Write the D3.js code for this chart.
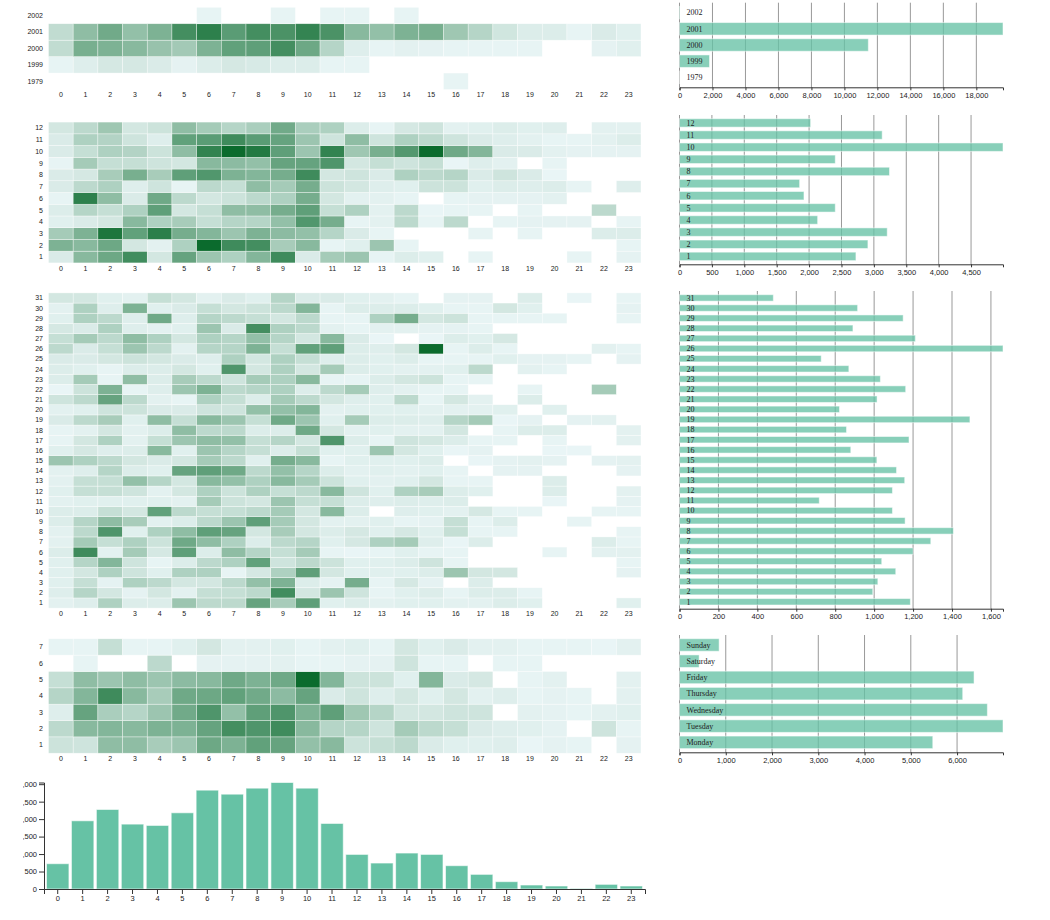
<!DOCTYPE html>
<html>
<head>
<meta charset="utf-8">
<script src="https://cdn.jsdelivr.net/npm/d3@7"></script>
<style>
body { margin: 0; background: #fff; }
svg text { font-family: "Liberation Sans", Arial, sans-serif; }
.row-label { font-family: "Liberation Serif", "Times New Roman", serif; font-size: 8px; fill: #222; }
.axis text { font-size: 7.5px; fill: #222; }
.axis path, .axis line { stroke: #333; }
.heat-label { font-size: 7px; fill: #222; }
</style>
</head>
<body>
<svg id="chart" width="1050" height="920"></svg>
<script>
const hours = d3.range(0, 24);

const years = ["1979", "1999", "2000", "2001", "2002"];
const yearTotals = [3, 1820, 11450, 19617, 30];

const months = d3.range(1, 13).map(String);
const monthTotals = [2723, 2908, 3206, 2132, 2404, 1921, 1854, 3241, 2404, 4993, 3128, 2024];

const days = d3.range(1, 32).map(String);
const dayTotals = [1186, 993, 1019, 1111, 1039, 1200, 1291, 1407, 1159, 1094, 718, 1094, 1157, 1115, 1014, 880,
  1179, 858, 1492, 822, 1015, 1162, 1032, 870, 728, 1662, 1212, 891, 1149, 915, 482];

const weekdayNums = d3.range(1, 8).map(String);
const weekdays = ["Monday", "Tuesday", "Wednesday", "Thursday", "Friday", "Saturday", "Sunday"];
const weekdayTotals = [5475, 6993, 6655, 6122, 6367, 424, 856];

const hourTotals = [724, 1952, 2276, 1857, 1819, 2181, 2829, 2714, 2886, 3048, 2886, 1876,
  990, 743, 1029, 990, 667, 419, 210, 114, 86, 15, 133, 86];

// heatmap shading, 0-100 (0 = no cell)
const yearHeat = [
  [0,0,0,0,0,0,0,0,0,0,0,0,0,0,0,0,3,0,0,0,0,0,0,0],
  [3,7,11,11,9,4,8,11,10,8,8,3,3,0,0,0,0,0,0,0,0,0,0,0],
  [20,52,50,45,38,33,50,62,63,75,57,25,7,3,5,4,3,3,3,3,0,0,4,6],
  [20,42,55,40,50,75,85,65,75,72,82,72,45,40,50,52,35,25,13,8,8,3,9,6],
  [0,0,0,0,0,0,3,0,0,3,0,3,3,0,3,0,0,0,0,0,0,0,0,0]
];

const monthHeat = [
  [9,45,57,76,12,60,36,28,47,77,9,32,36,3,8,6,0,3,0,0,0,3,0,4],
  [50,45,57,12,5,28,100,77,75,31,45,3,6,36,3,0,0,0,0,0,0,0,0,3],
  [32,50,92,62,86,53,47,36,50,43,40,25,9,3,0,0,0,3,0,3,0,0,8,8],
  [6,9,12,45,28,31,18,25,25,40,69,53,3,5,22,3,22,0,3,4,4,4,0,3],
  [8,25,18,28,63,12,18,42,42,53,63,18,28,5,22,2,3,3,0,3,0,0,22,0],
  [3,85,42,9,56,22,12,15,22,28,53,12,5,5,3,0,3,4,4,4,5,0,0,0],
  [9,22,28,7,14,3,22,18,42,32,53,15,12,7,6,15,15,6,8,7,8,3,0,7],
  [9,11,31,52,31,63,69,50,47,53,77,12,14,9,28,22,25,9,14,9,2,0,0,0],
  [3,32,18,18,14,12,45,43,40,60,60,70,12,18,14,18,2,7,5,0,3,0,0,0],
  [9,18,28,26,15,42,83,100,90,63,36,83,35,52,68,100,56,47,9,9,5,4,4,4],
  [9,28,26,14,7,62,65,77,65,60,36,14,42,14,28,22,14,9,7,5,3,3,5,8],
  [12,22,35,12,15,42,32,25,30,55,30,28,8,3,11,14,5,6,8,6,7,0,5,5]
];

const dayHeat = [
  [5,7,28,8,8,36,22,22,60,31,63,6,8,5,6,6,5,5,8,6,0,0,0,6],
  [7,25,12,4,12,5,18,18,22,76,12,36,14,3,6,8,3,8,8,3,0,0,0,0],
  [6,18,4,28,22,12,12,22,40,50,8,4,53,3,11,4,0,8,0,0,0,0,0,0],
  [6,12,28,14,6,28,28,3,11,28,63,12,6,6,6,8,36,12,12,0,0,0,0,4],
  [6,25,47,14,3,8,22,28,62,14,22,15,6,6,8,14,3,0,0,0,0,0,0,3],
  [8,77,5,32,11,63,8,42,25,18,32,3,2,3,6,3,3,0,0,0,3,0,5,5],
  [5,32,18,28,15,56,42,28,8,22,25,6,11,28,32,7,2,8,0,0,0,0,8,3],
  [5,22,70,6,28,42,63,60,12,31,12,8,11,6,11,6,18,3,3,0,0,0,0,3],
  [8,25,42,31,5,8,22,36,63,32,12,5,5,6,3,4,18,3,8,0,0,3,0,0],
  [8,8,18,12,62,22,18,18,22,32,12,45,8,0,7,6,5,11,3,3,0,0,3,3],
  [5,6,6,6,6,5,32,15,12,36,18,18,8,7,8,7,8,0,0,0,2,0,0,4],
  [6,18,18,14,5,12,28,15,28,18,22,45,14,6,28,31,8,6,0,0,8,0,0,5],
  [5,18,18,40,25,12,45,40,28,45,32,15,6,5,6,12,3,3,0,0,8,0,0,0],
  [5,7,25,8,6,60,63,56,22,40,25,8,5,6,5,6,3,0,4,4,0,0,0,4],
  [36,28,22,12,9,12,32,22,6,53,45,3,6,6,6,8,0,2,4,5,4,0,4,5],
  [6,11,7,8,45,6,36,25,18,8,18,6,6,36,12,6,2,4,0,0,2,2,0,0],
  [3,12,28,5,18,36,42,40,18,25,12,70,8,3,14,12,8,3,3,0,3,0,0,5],
  [3,5,12,5,8,42,22,22,8,8,56,12,5,6,5,5,12,0,3,8,8,0,0,5],
  [9,22,31,6,42,18,45,36,18,56,36,6,32,8,8,7,25,32,2,4,0,4,5,0],
  [5,6,14,15,9,9,14,14,40,40,47,5,6,6,6,5,5,5,6,0,6,0,0,0],
  [14,22,60,22,5,3,28,18,8,32,22,12,7,6,22,3,12,5,0,8,0,0,0,0],
  [2,15,50,3,7,36,50,22,25,28,8,22,32,7,5,3,3,0,0,3,0,0,32,0],
  [8,32,3,42,8,31,22,14,32,28,45,3,3,8,12,15,3,3,0,0,0,0,0,0],
  [8,6,3,8,8,12,6,70,12,28,12,32,8,6,5,5,6,22,0,5,3,0,0,0],
  [9,9,12,15,12,9,7,28,12,28,18,7,8,6,8,3,3,3,6,4,4,3,0,4],
  [22,9,18,36,22,5,25,25,50,18,62,63,8,7,12,100,3,8,3,0,0,0,5,3],
  [18,32,22,42,28,12,28,25,40,25,12,45,9,2,0,2,8,6,11,0,0,0,0,0],
  [11,9,28,7,5,6,36,9,75,28,22,5,3,5,5,4,4,3,0,0,0,0,0,0],
  [6,28,22,7,56,7,25,22,18,12,22,3,3,28,53,12,15,3,3,3,3,0,0,3],
  [5,28,7,50,6,9,18,12,15,22,47,3,8,8,8,6,3,3,12,6,0,0,0,4],
  [12,12,6,5,18,12,5,9,6,25,9,9,6,5,3,0,4,4,0,8,0,2,0,3]
];

const weekdayHeat = [
  [15,14,42,42,31,36,57,50,62,60,40,45,15,18,22,9,6,6,7,2,4,3,0,4],
  [22,45,47,45,50,50,60,75,70,77,45,25,25,14,32,22,18,9,7,6,4,0,14,3],
  [7,60,30,25,36,55,70,40,63,70,50,63,35,25,12,12,14,14,0,5,4,3,5,6],
  [25,47,77,45,31,56,57,62,55,43,60,9,14,7,12,6,12,5,7,3,4,3,0,5],
  [18,42,36,42,36,43,45,56,50,56,100,47,15,15,6,47,9,11,0,3,5,0,0,5],
  [0,3,0,0,22,0,4,4,4,5,3,3,4,4,14,3,3,0,3,3,0,0,0,0],
  [3,3,18,3,3,6,12,5,5,6,3,5,6,3,12,6,9,5,5,3,3,3,2,5]
];

const svg = d3.select("#chart");
const color = d3.scaleLinear().domain([0, 100]).range(["#eef8fa", "#0b6b2d"]);

function heatmap(rows, labels, top, bottom) {
    const g = svg.append("g");
    const x = d3.scaleBand().domain(hours).range([48.5, 641]);
    const y = d3.scaleBand().domain(labels.slice().reverse()).range([top, bottom]);

    const cells = [];
    rows.forEach((row, i) => row.forEach((v, h) => {
        if (v > 0) cells.push({ key: labels[i], hour: h, value: v });
    }));

    g.selectAll("rect")
        .data(cells)
        .enter()
        .append("rect")
        .attr("x", d => x(d.hour))
        .attr("y", d => y(d.key))
        .attr("width", x.bandwidth())
        .attr("height", y.bandwidth())
        .style("fill", d => color(d.value))
        .style("stroke", "#fff")
        .style("stroke-width", 0.6)
        .style("stroke-opacity", 0.6);

    g.selectAll(".ylab")
        .data(labels)
        .enter()
        .append("text")
        .attr("class", "heat-label")
        .attr("x", 43)
        .attr("y", d => y(d) + y.bandwidth() / 2)
        .attr("dy", "0.35em")
        .style("text-anchor", "end")
        .text(d => d);

    g.selectAll(".xlab")
        .data(hours)
        .enter()
        .append("text")
        .attr("class", "heat-label")
        .attr("x", d => x(d) + x.bandwidth() / 2)
        .attr("y", bottom + 5.5)
        .attr("dy", "0.35em")
        .style("text-anchor", "middle")
        .text(d => d);
}

function rowChart(cats, vals, top, axisY, tickCount) {
    const g = svg.append("g");
    const n = cats.length;
    const gap = 3.7;
    const step = (axisY - top - gap) / n;
    const x = d3.scaleLinear().domain([0, d3.max(vals)]).range([679.5, 1003]);
    const y = d3.scaleBand().domain(cats.slice().reverse()).range([top, axisY])
        .paddingInner(gap / step).paddingOuter(gap / step);
    const data = cats.map((c, i) => ({ key: c, value: vals[i] }));

    g.selectAll(".grid")
        .data(x.ticks(tickCount))
        .enter()
        .append("line")
        .attr("x1", d => x(d)).attr("x2", d => x(d))
        .attr("y1", top).attr("y2", axisY)
        .style("stroke", "#999")
        .style("stroke-width", 1);

    g.selectAll(".bar")
        .data(data)
        .enter()
        .append("rect")
        .attr("x", x(0))
        .attr("y", d => y(d.key))
        .attr("width", d => x(d.value) - x(0))
        .attr("height", y.bandwidth())
        .style("fill", "#66c2a5")
        .style("fill-opacity", 0.78)
        .style("stroke", "#fff")
        .style("stroke-opacity", 0.5);

    g.selectAll(".lab")
        .data(data)
        .enter()
        .append("text")
        .attr("class", "row-label")
        .attr("x", x(0) + 7)
        .attr("y", d => y(d.key) + y.bandwidth() / 2)
        .attr("dy", "0.35em")
        .text(d => d.key);

    g.append("g")
        .attr("class", "axis")
        .attr("transform", `translate(0,${axisY})`)
        .call(d3.axisBottom(x).ticks(tickCount).tickSize(3).tickPadding(2));
}

heatmap(yearHeat, years, 7.3, 89.5);
heatmap(monthHeat, months, 122.1, 262.9);
heatmap(dayHeat, days, 292.9, 608.1);
heatmap(weekdayHeat, weekdayNums, 638.8, 753.2);

rowChart(years, yearTotals, 2.7, 87.3, 10);
rowChart(months, monthTotals, 115, 264.3, 10);
rowChart(days, dayTotals, 291, 608.7, 10);
rowChart(weekdays, weekdayTotals, 635, 752.3, 5);

// hour histogram at the bottom, y labels clipped on the left
svg.append("clipPath").attr("id", "clipLeft")
    .append("rect").attr("x", 23).attr("y", 760).attr("width", 1027).attr("height", 160);

const bottom = svg.append("g").attr("clip-path", "url(#clipLeft)");
const xb = d3.scaleBand().domain(hours).range([44, 645]).padding(0.1);
const yb = d3.scaleLinear().domain([0, d3.max(hourTotals)]).range([889, 782.5]);

bottom.selectAll("rect")
    .data(hourTotals)
    .enter()
    .append("rect")
    .attr("x", (d, i) => xb(i))
    .attr("y", d => yb(d))
    .attr("width", xb.bandwidth())
    .attr("height", d => 889 - yb(d))
    .style("fill", "#66c2a5")
    .style("stroke", "#fff")
    .style("stroke-opacity", 0.6);

bottom.append("g")
    .attr("class", "axis")
    .attr("transform", "translate(0,889)")
    .call(d3.axisBottom(xb).tickSize(5).tickPadding(2));

bottom.append("g")
    .attr("class", "axis")
    .attr("transform", "translate(44,0)")
    .call(d3.axisLeft(yb).ticks(6).tickSize(5).tickPadding(2));
</script>
</body>
</html>
